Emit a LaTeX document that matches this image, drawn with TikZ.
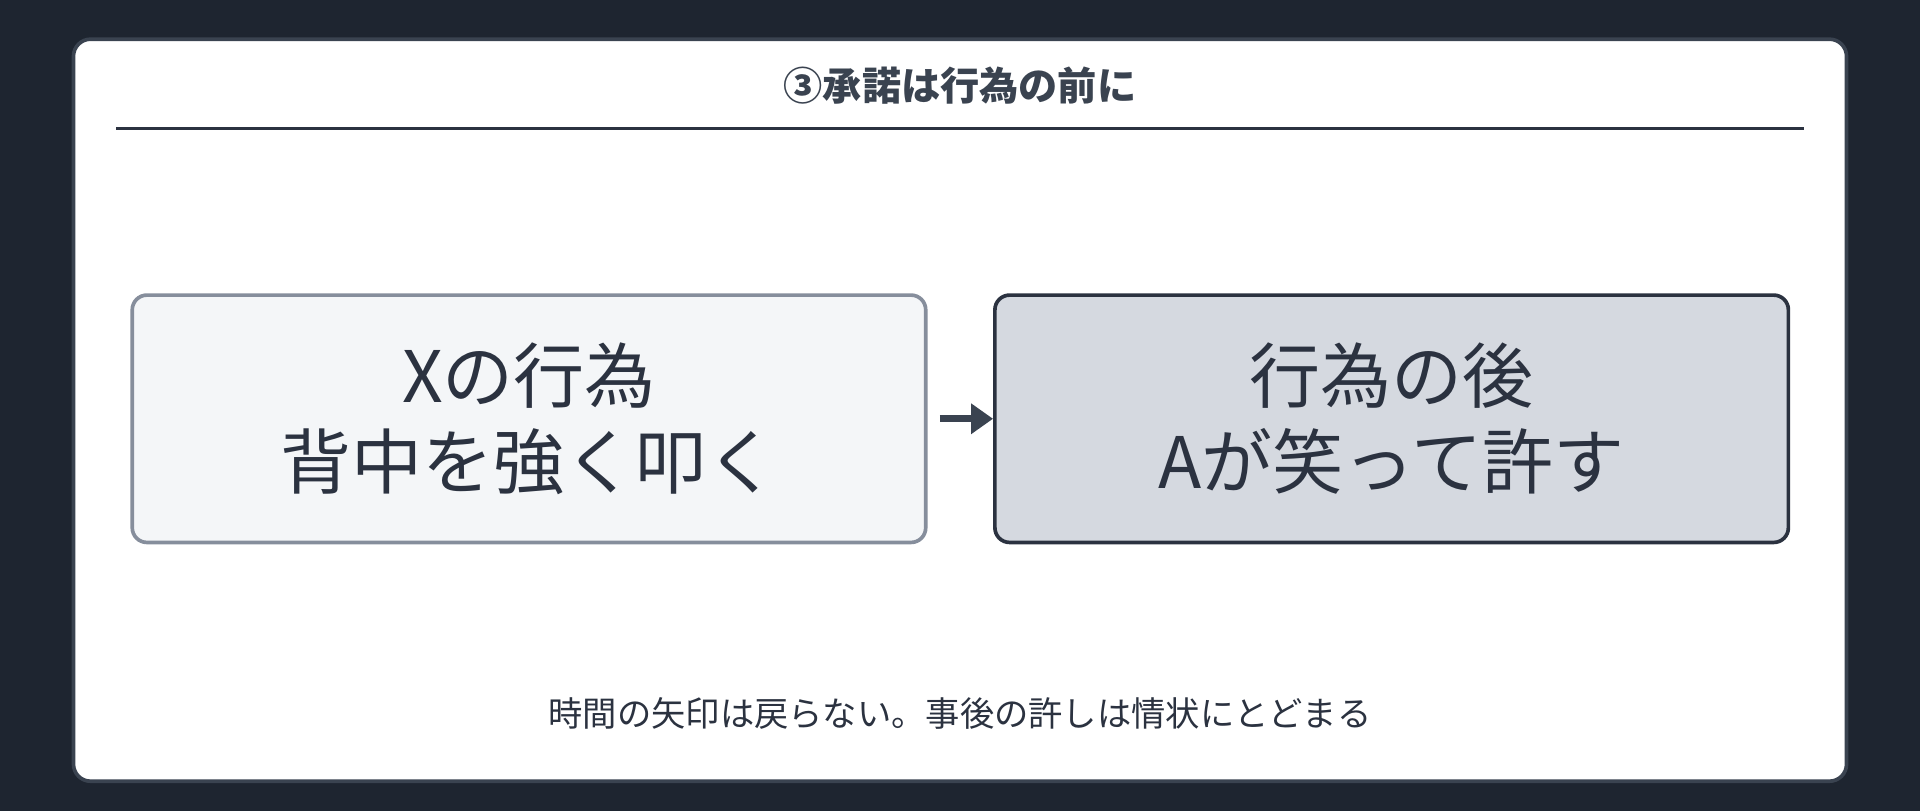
\documentclass[tikz,border=0pt]{standalone}
\usepackage{fontspec}
\setmainfont{Noto Sans CJK JP}
\usetikzlibrary{positioning,arrows.meta}
\definecolor{bgdark}{HTML}{1E2530}
\definecolor{ink}{HTML}{2B3240}
\definecolor{frame}{HTML}{3A4350}
\definecolor{paleA}{HTML}{F4F6F8}
\definecolor{paleB}{HTML}{D5D9E0}
\definecolor{edgeA}{HTML}{868E9C}
\begin{document}
\begin{tikzpicture}[x=0.5pt,y=-0.5pt,
	stepbox/.style={rounded corners=6pt,line width=1.5pt,minimum width=324pt,minimum height=101pt,
		align=center,font=\fontsize{29}{35}\selectfont,text=ink,inner sep=0pt},
	flow/.style={-{Triangle[length=9pt,width=12pt]},line width=3pt,draw=frame}]
	\fill[bgdark] (0,0) rectangle (1568,662);
	\draw[frame,line width=1.5pt,fill=white,rounded corners=7pt] (60,32) rectangle (1508,638);
	% title
	\node[font=\fontsize{16}{19}\selectfont\bfseries,text=frame] (title) at (784,70) {③承諾は行為の前に};
	\draw[ink,line width=1pt] (95,105) -- (1473,105);
	% boxes
	\node[stepbox,fill=paleA,draw=edgeA] (act) at (432,342) {Xの行為\\背中を強く叩く};
	\node[stepbox,fill=paleB,draw=ink] (after) at (1136.5,342) {行為の後\\Aが笑って許す};
	\draw[flow] ([xshift=5pt]act.east) -- (after.west);
	% note
	\node[font=\fontsize{14}{17}\selectfont,text=ink] (note) at (784,583) {時間の矢印は戻らない。事後の許しは情状にとどまる};
\end{tikzpicture}
\end{document}
